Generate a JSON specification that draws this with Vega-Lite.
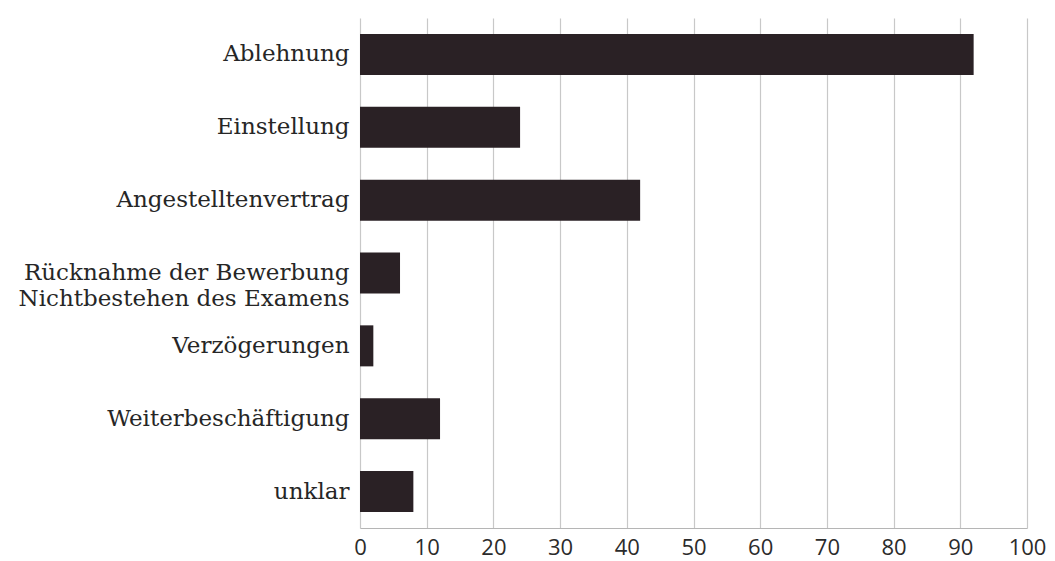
{
  "$schema": "https://vega.github.io/schema/vega-lite/v6.json",
  "autosize": {"type": "none"},
  "width": 667,
  "height": 510,
  "padding": {"left": 360, "top": 18, "right": 28, "bottom": 33},
  "background": "white",
  "data": {
    "values": [
      {"kategorie": "Ablehnung", "wert": 92},
      {"kategorie": "Einstellung", "wert": 24},
      {"kategorie": "Angestelltenvertrag", "wert": 42},
      {"kategorie": "Rücknahme der Bewerbung|Nichtbestehen des Examens", "wert": 6},
      {"kategorie": "Verzögerungen", "wert": 2},
      {"kategorie": "Weiterbeschäftigung", "wert": 12},
      {"kategorie": "unklar", "wert": 8}
    ]
  },
  "mark": {"type": "bar", "color": "#2a2125"},
  "encoding": {
    "y": {
      "field": "kategorie",
      "type": "nominal",
      "sort": null,
      "title": null,
      "scale": {"paddingInner": 0.437, "paddingOuter": 0.2185},
      "axis": {
        "domain": false,
        "ticks": false,
        "labelPadding": 11,
        "labelFont": "DejaVu Serif",
        "labelFontSize": 23,
        "labelColor": "#262626",
        "labelLineHeight": 26,
        "labelLimit": 400,
        "labelExpr": "split(datum.label, '|')"
      }
    },
    "x": {
      "field": "wert",
      "type": "quantitative",
      "title": null,
      "scale": {"domain": [0, 100], "nice": false},
      "axis": {
        "values": [0, 10, 20, 30, 40, 50, 60, 70, 80, 90, 100],
        "grid": true,
        "gridColor": "#c8c8c8",
        "gridWidth": 1.2,
        "domain": true,
        "domainColor": "#b5b5b5",
        "domainWidth": 1.2,
        "ticks": false,
        "labelPadding": 9,
        "labelFont": "Open Sans",
        "labelFontSize": 22,
        "labelColor": "#2b2b2b",
        "labelFlush": false
      }
    }
  },
  "config": {"view": {"stroke": null}}
}
